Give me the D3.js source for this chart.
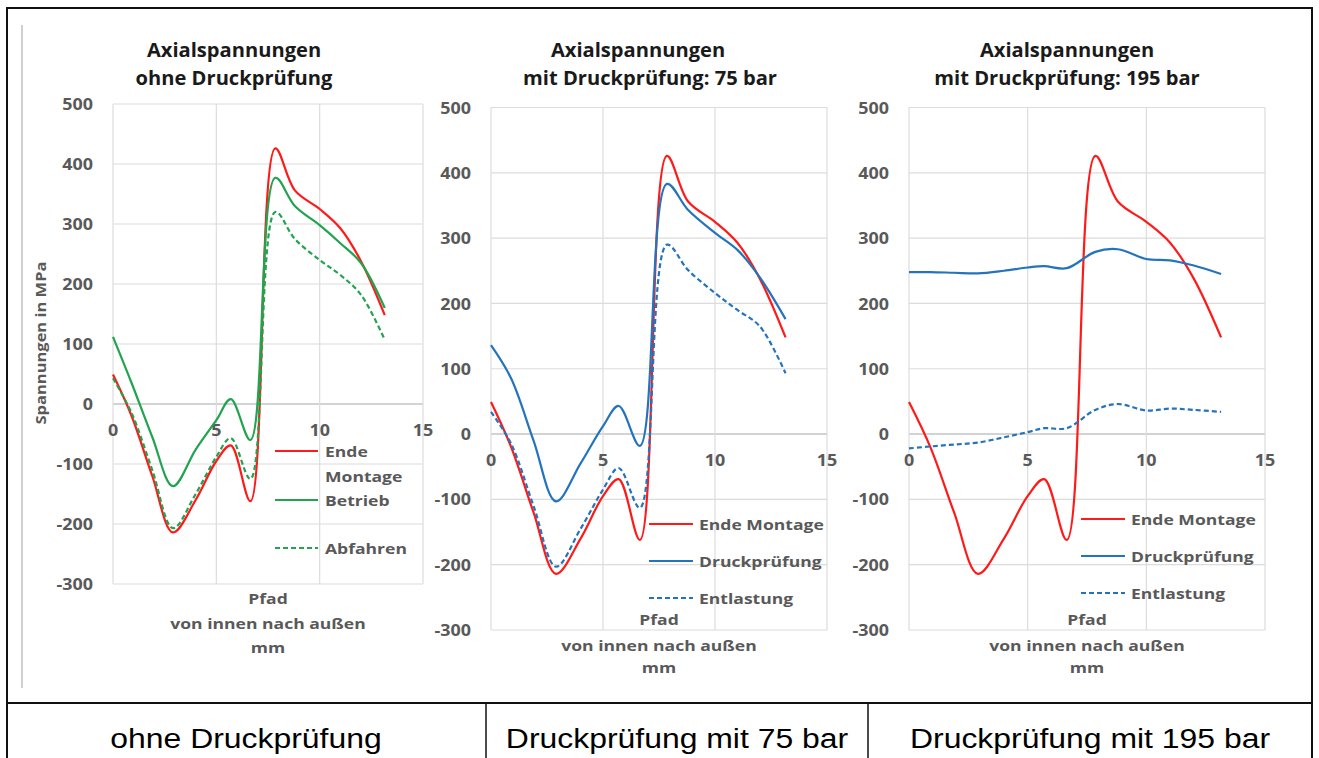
<!DOCTYPE html>
<html>
<head>
<meta charset="utf-8">
<script src="https://cdn.jsdelivr.net/npm/d3@7"></script>
<style>
  html, body { margin: 0; padding: 0; background: #fff; }
  svg { display: block; }
  .chart-text { font-family: "Open Sans", "DejaVu Sans", sans-serif; font-weight: bold; }
  .table-text { font-family: "Liberation Sans", Arial, sans-serif; }
</style>
</head>
<body>
<svg id="fig" width="1319" height="758"></svg>
<script>
// Path positions along the wall (mm), shared by every series
const pathMm = [0, 0.9, 1.9, 2.9, 4.0, 5.0, 5.7, 6.65, 7.85, 8.8, 10.0, 11.0, 12.0, 13.15];

// Axial stresses in MPa
const endeMontage  = [49, -20, -120, -214, -160, -95, -69, -162, 426, 356, 325, 293, 238, 148];
const betrieb      = [112, 35, -55, -137, -76, -27, 8, -60, 377, 330, 298, 268, 235, 160];
const abfahren     = [43, -15, -110, -207, -150, -88, -57, -125, 320, 275, 240, 215, 182, 107];
const pruefung75   = [136, 85, -10, -103, -45, 12, 43, -18, 383, 343, 308, 282, 240, 176];
const entlast75    = [34, -15, -110, -203, -145, -85, -52, -113, 290, 251, 216, 190, 165, 93];
const pruefung195  = [248, 248, 247, 246, 250, 255, 257, 254, 279, 283, 268, 266, 258, 245];
const entlast195   = [-22, -19, -16, -13, -5, 3, 9, 9, 37, 46, 36, 39, 37, 34];

// Axis ticks
const xTicks = [0, 5, 10, 15];
const yTicks = [500, 400, 300, 200, 100, 0, -100, -200, -300];

// Text
const panelTitles = [
  ["Axialspannungen", "ohne Druckprüfung"],
  ["Axialspannungen", "mit Druckprüfung: 75 bar"],
  ["Axialspannungen", "mit Druckprüfung: 195 bar"]
];
const xAxisTitle = ["Pfad", "von innen nach außen", "mm"];
const yAxisTitle = "Spannungen in MPa";
const tableLabels = ["ohne Druckprüfung", "Druckprüfung mit 75 bar", "Druckprüfung mit 195 bar"];

const RED = "#ff1a1a", GREEN = "#22a34f", BLUE = "#2474bd";
const SX = 1.12; // horizontal stretch of the chart lettering

const svg = d3.select("#fig");

// outer frame and table
const frame = svg.append("g").attr("stroke", "#111").attr("stroke-width", 2).attr("fill", "none");
frame.append("rect").attr("x", 7).attr("y", 8).attr("width", 1305).attr("height", 760);
frame.append("line").attr("x1", 7).attr("x2", 1312).attr("y1", 703).attr("y2", 703);
frame.append("line").attr("x1", 486).attr("x2", 486).attr("y1", 703).attr("y2", 758).attr("stroke-width", 1.5);
frame.append("line").attr("x1", 868).attr("x2", 868).attr("y1", 703).attr("y2", 758).attr("stroke-width", 1.5);
svg.append("line").attr("x1", 22).attr("x2", 22).attr("y1", 25).attr("y2", 688)
  .attr("stroke", "#d0d0d0").attr("stroke-width", 2);

const tableCenters = [246, 677, 1090];
tableLabels.forEach((t, i) => {
  svg.append("text").attr("class", "table-text")
    .attr("transform", `translate(${tableCenters[i]},748) scale(1.14,1)`)
    .attr("text-anchor", "middle").attr("font-size", 28).attr("fill", "#000").text(t);
});

function stretchedText(g, x, y, str, opts) {
  return g.append("text").attr("class", "chart-text")
    .attr("transform", `translate(${x},${y}) scale(${opts.sx || SX},1)`)
    .attr("text-anchor", opts.anchor || "middle")
    .attr("dominant-baseline", "central")
    .attr("font-size", opts.size).attr("fill", opts.fill).text(str);
}

const panels = [
  { x0: 113, x1: 423, yTop: 104, yBot: 584, titleX: [234, 234],
    series: [
      { name: "Ende Montage", values: endeMontage, color: RED, dash: null },
      { name: "Betrieb", values: betrieb, color: GREEN, dash: null },
      { name: "Abfahren", values: abfahren, color: GREEN, dash: "5,3" }
    ],
    legend: { lx0: 275, lx1: 318, tx: 325,
      rows: [ { y: 451, lines: ["Ende", "Montage"], s: 0 }, { y: 500, lines: ["Betrieb"], s: 1 }, { y: 548, lines: ["Abfahren"], s: 2 } ] },
    axisTitleY: [598, 623, 647], yTitle: true },
  { x0: 491, x1: 827, yTop: 107.5, yBot: 630, titleX: [638, 650],
    series: [
      { name: "Ende Montage", values: endeMontage, color: RED, dash: null },
      { name: "Druckprüfung", values: pruefung75, color: BLUE, dash: null },
      { name: "Entlastung", values: entlast75, color: BLUE, dash: "5,3" }
    ],
    legend: { lx0: 649, lx1: 693, tx: 699,
      rows: [ { y: 524, lines: ["Ende Montage"], s: 0 }, { y: 561, lines: ["Druckprüfung"], s: 1 }, { y: 598, lines: ["Entlastung"], s: 2 } ] },
    axisTitleY: [619, 645, 667], yTitle: false },
  { x0: 909, x1: 1265, yTop: 107.5, yBot: 630, titleX: [1067, 1067],
    series: [
      { name: "Ende Montage", values: endeMontage, color: RED, dash: null },
      { name: "Druckprüfung", values: pruefung195, color: BLUE, dash: null },
      { name: "Entlastung", values: entlast195, color: BLUE, dash: "5,3" }
    ],
    legend: { lx0: 1081, lx1: 1125, tx: 1131,
      rows: [ { y: 519, lines: ["Ende Montage"], s: 0 }, { y: 556, lines: ["Druckprüfung"], s: 1 }, { y: 593, lines: ["Entlastung"], s: 2 } ] },
    axisTitleY: [619, 645, 667], yTitle: false }
];

panels.forEach((p, pi) => {
  const g = svg.append("g");
  const x = d3.scaleLinear().domain([0, 15]).range([p.x0, p.x1]);
  const y = d3.scaleLinear().domain([-300, 500]).range([p.yBot, p.yTop]);

  // gridlines
  g.append("g").selectAll("line").data(yTicks).join("line")
    .attr("x1", p.x0).attr("x2", p.x1).attr("y1", d => y(d)).attr("y2", d => y(d))
    .attr("stroke", d => d === 0 ? "#c4c4c4" : "#dcdcdc").attr("stroke-width", d => d === 0 ? 1.5 : 1.2);
  g.append("g").selectAll("line").data(xTicks).join("line")
    .attr("x1", d => x(d)).attr("x2", d => x(d)).attr("y1", p.yTop).attr("y2", p.yBot)
    .attr("stroke", "#dcdcdc").attr("stroke-width", 1.2);

  // tick labels
  yTicks.forEach(t => stretchedText(g, p.x0 - 20, y(t), String(t), { size: 16, fill: "#595959", anchor: "end" }));
  xTicks.forEach(t => stretchedText(g, x(t), y(0) + 26, String(t), { size: 16, fill: "#595959" }));

  // titles
  panelTitles[pi].forEach((t, i) => stretchedText(g, p.titleX[i], 50 + i * 28, t, { size: 19, fill: "#1a1a1a", sx: 1.06 }));
  const cx = (p.x0 + p.x1) / 2;
  xAxisTitle.forEach((t, i) => stretchedText(g, cx, p.axisTitleY[i], t, { size: 15, fill: "#595959", sx: 1.17 }));
  if (p.yTitle) {
    g.append("text").attr("class", "chart-text")
      .attr("transform", `translate(40,343) rotate(-90) scale(1.1,1)`)
      .attr("text-anchor", "middle").attr("dominant-baseline", "central")
      .attr("font-size", 15).attr("fill", "#595959").text(yAxisTitle);
  }

  // curves
  const line = d3.line().x((d, i) => x(pathMm[i])).y(d => y(d)).curve(d3.curveCatmullRom.alpha(0.5));
  p.series.forEach(s => {
    g.append("path").attr("d", line(s.values)).attr("fill", "none")
      .attr("stroke", s.color).attr("stroke-width", 2.2)
      .attr("stroke-dasharray", s.dash);
  });

  // legend
  p.legend.rows.forEach(r => {
    const s = p.series[r.s];
    g.append("line").attr("x1", p.legend.lx0).attr("x2", p.legend.lx1).attr("y1", r.y).attr("y2", r.y)
      .attr("stroke", s.color).attr("stroke-width", 2.2).attr("stroke-dasharray", s.dash);
    r.lines.forEach((t, i) => stretchedText(g, p.legend.tx, r.y + i * 25, t, { size: 15, fill: "#595959", anchor: "start", sx: 1.17 }));
  });
});
</script>
</body>
</html>
